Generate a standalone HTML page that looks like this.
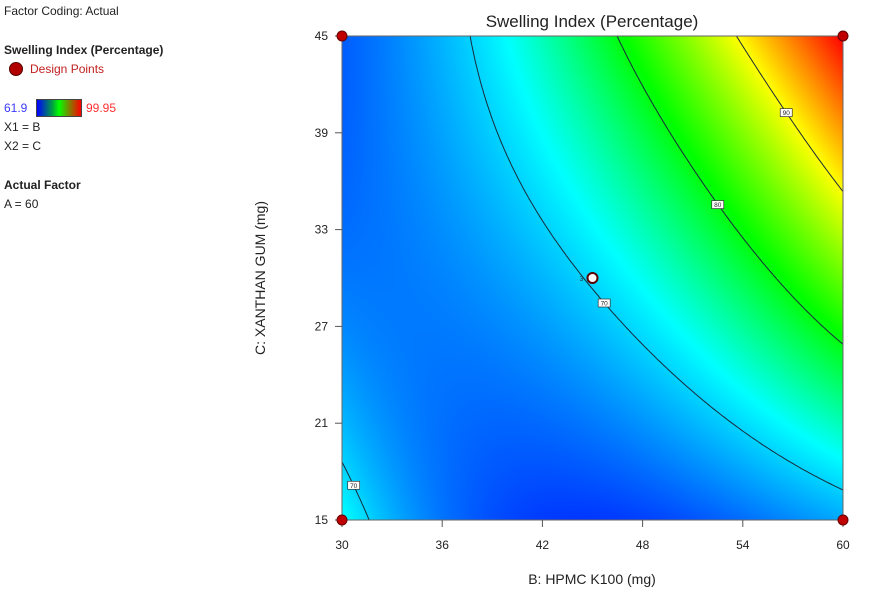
<!DOCTYPE html>
<html><head><meta charset="utf-8">
<style>
body{margin:0;width:886px;height:603px;background:#fff;font-family:"Liberation Sans",sans-serif;position:relative;overflow:hidden}
.t{position:absolute;font-size:12px;color:#222;white-space:nowrap}
.b{font-weight:bold}
</style></head><body>
<div class="t" style="left:4px;top:4px">Factor Coding: Actual</div>
<div class="t b" style="left:4px;top:43px">Swelling Index (Percentage)</div>
<div style="position:absolute;left:9px;top:62px;width:12px;height:12px;border-radius:50%;background:#b00000;border:1px solid #500"></div>
<div class="t" style="left:30px;top:62px;color:#c02020">Design Points</div>
<div class="t" style="left:4px;top:101px;color:#3a3aff">61.9</div>
<div style="position:absolute;left:36px;top:99px;width:44px;height:16px;border:1px solid #444;background:linear-gradient(to right,#0000ff,#00a040 35%,#00ff00 50%,#a06000 80%,#ff0000)"></div>
<div class="t" style="left:86px;top:101px;color:#ff3030">99.95</div>
<div class="t" style="left:4px;top:120px">X1 = B</div>
<div class="t" style="left:4px;top:139px">X2 = C</div>
<div class="t b" style="left:4px;top:178px">Actual Factor</div>
<div class="t" style="left:4px;top:197px">A = 60</div>

<canvas id="cv" width="501" height="484" style="position:absolute;left:342px;top:36px"></canvas>
<svg id="sv" width="886" height="603" style="position:absolute;left:0;top:0"></svg>

<script>
const bVals=[30,37.5,45,52.5,60];
const cVals=[15,22.5,30,37.5,45];
// rows: C=15..45, cols: B=30..60
const zRow15=[72.5,64,62.5,64,68];
const zRow22=[68,64.5,66.5,70.3,76];
const zRow30=[65.5,66.5,71,76.5,85];
const zRow37=[64.5,67.5,75,81.5,92];
const zRow45=[64,70,78,88.5,100];
const grid=[zRow15,zRow22,zRow30,zRow37,zRow45];
const levels=[70,80,90];
const xTicks=[30,36,42,48,54,60];
const yTicks=[15,21,27,33,39,45];
const designB=[30,60,30,60];
const designC=[15,15,45,45];
const centerPt=[45,30];
const zMin=61.9,zMax=99.95;
const labelsB=[45.7,52.5,56.6,30.7];
const labelsLev=[70,80,90,70];

const L=342,R=843,T=36,Bt=520;
const sx=b=>L+(b-30)/30*(R-L);
const sy=c=>Bt-(c-15)/30*(Bt-T);
const DEG=3;
function basis(u,v){const a=[];for(let p=0;p<=DEG;p++)for(let q=0;q<=DEG;q++)a.push(Math.pow(u,p)*Math.pow(v,q));return a;}
const nb=(DEG+1)*(DEG+1);
const A=[],rhs=[];for(let i=0;i<nb;i++){A.push(new Array(nb).fill(0));rhs.push(0);}
cVals.forEach((c,i)=>bVals.forEach((b,j)=>{
  const ph=basis((b-45)/15,(c-30)/15),z=grid[i][j];
  for(let r=0;r<nb;r++){rhs[r]+=ph[r]*z;for(let s=0;s<nb;s++)A[r][s]+=ph[r]*ph[s];}
}));
for(let r=0;r<nb;r++)A[r][r]+=1e-6;
for(let k=0;k<nb;k++){let m=k;for(let r=k+1;r<nb;r++)if(Math.abs(A[r][k])>Math.abs(A[m][k]))m=r;
  [A[k],A[m]]=[A[m],A[k]];[rhs[k],rhs[m]]=[rhs[m],rhs[k]];
  for(let r=k+1;r<nb;r++){const fct=A[r][k]/A[k][k];for(let s=k;s<nb;s++)A[r][s]-=fct*A[k][s];rhs[r]-=fct*rhs[k];}}
const coef=new Array(nb).fill(0);
for(let k=nb-1;k>=0;k--){let s=rhs[k];for(let j=k+1;j<nb;j++)s-=A[k][j]*coef[j];coef[k]=s/A[k][k];}
function f(b,c){const ph=basis((b-45)/15,(c-30)/15);let s=0;for(let k=0;k<nb;k++)s+=coef[k]*ph[k];return s;}

const stops=[[0,[0,50,255]],[0.27,[0,255,255]],[0.49,[0,255,0]],[0.74,[255,255,0]],[1,[255,0,0]]];
function col(z){
  let t=Math.max(0,Math.min(1,(z-zMin)/(zMax-zMin)));
  for(let k=1;k<stops.length;k++) if(t<=stops[k][0]){
    let a=stops[k-1],bb=stops[k],s=(t-a[0])/(bb[0]-a[0]);
    return a[1].map((x,n)=>Math.round(x+(bb[1][n]-x)*s));
  }
  return stops[4][1];
}
const cv=document.getElementById('cv'),ctx=cv.getContext('2d');
const W=cv.width,H=cv.height,img=ctx.createImageData(W,H);
for(let y=0;y<H;y++)for(let x=0;x<W;x++){
  let c=col(f(30+x/(W-1)*30,45-y/(H-1)*30)),p=(y*W+x)*4;
  img.data[p]=c[0];img.data[p+1]=c[1];img.data[p+2]=c[2];img.data[p+3]=255;
}
ctx.putImageData(img,0,0);

const NS='http://www.w3.org/2000/svg',sv=document.getElementById('sv');
function mk(tag,at,name){const e=document.createElementNS(NS,tag);for(const k in at)e.setAttribute(k,at[k]);


sv.appendChild(e);return e;}
const N=150;
const F=[];for(let i=0;i<=N;i++){F.push([]);for(let j=0;j<=N;j++)F[i].push(f(30+j/N*30,15+i/N*30));}
levels.forEach(lv=>{
  let d='';
  const P=(i,j)=>[sx(30+j/N*30),sy(15+i/N*30)];
  const ip=(a,b,va,vb)=>{let t=(lv-va)/(vb-va);return [a[0]+(b[0]-a[0])*t,a[1]+(b[1]-a[1])*t];};
  for(let i=0;i<N;i++)for(let j=0;j<N;j++){
    let v=[F[i][j],F[i][j+1],F[i+1][j+1],F[i+1][j]],p=[P(i,j),P(i,j+1),P(i+1,j+1),P(i+1,j)],pts=[];
    for(let k=0;k<4;k++){let a=v[k],b=v[(k+1)%4];if((a<lv)!==(b<lv))pts.push(ip(p[k],p[(k+1)%4],a,b));}
    for(let k=0;k+1<pts.length;k+=2)d+='M'+pts[k][0].toFixed(1)+' '+pts[k][1].toFixed(1)+'L'+pts[k+1][0].toFixed(1)+' '+pts[k+1][1].toFixed(1);
  }
  mk('path',{d:d,stroke:'#1a2a3a','stroke-width':1,fill:'none'},'contour-'+lv);
});
labelsB.forEach((b,k)=>{
  let lv=labelsLev[k],best=15,bd=1e9;
  let cHi=k===3?25:45;
  for(let c=15;c<=cHi;c+=0.05){let e=Math.abs(f(b,c)-lv);if(e<bd){bd=e;best=c;}}
  let x=sx(b),y=sy(best);
  mk('rect',{x:x-6,y:y-4,width:12,height:8,fill:'#fff',stroke:'#333','stroke-width':0.7},'contour-label-box-'+lv);
  const t=mk('text',{x:x,y:y+2.5,'font-size':6.5,'text-anchor':'middle',fill:'#222','font-family':'Liberation Sans'},'contour-label-'+lv);
  t.textContent=lv;
});
mk('rect',{x:L,y:T,width:R-L,height:Bt-T,fill:'none',stroke:'#666','stroke-width':1},'plot-frame');
xTicks.forEach(v=>{let x=sx(v);
  mk('line',{x1:x,y1:Bt,x2:x,y2:Bt+7,stroke:'#555'},'x-tick');
  const t=mk('text',{x:x,y:Bt+29,'font-size':12,'text-anchor':'middle',fill:'#222','font-family':'Liberation Sans'},'x-tick-label');t.textContent=v;});
yTicks.forEach(v=>{let y=sy(v);
  mk('line',{x1:L-7,y1:y,x2:L,y2:y,stroke:'#555'},'y-tick');
  const t=mk('text',{x:L-14,y:y+4,'font-size':12,'text-anchor':'end',fill:'#222','font-family':'Liberation Sans'},'y-tick-label');t.textContent=v;});
let tt=mk('text',{x:592,y:27,'font-size':17,'text-anchor':'middle',fill:'#222','font-family':'Liberation Sans'},'chart-title');tt.textContent='Swelling Index (Percentage)';
let xt=mk('text',{x:592,y:584,'font-size':14,'text-anchor':'middle',fill:'#222','font-family':'Liberation Sans'},'x-axis-title');xt.textContent='B: HPMC K100 (mg)';
let yt=mk('text',{x:265,y:278,'font-size':14,'text-anchor':'middle',fill:'#222','font-family':'Liberation Sans',transform:'rotate(-90 265 278)'},'y-axis-title');yt.textContent='C: XANTHAN GUM (mg)';
designB.forEach((b,k)=>mk('circle',{cx:sx(b),cy:sy(designC[k]),r:5,fill:'#c00000',stroke:'#600','stroke-width':1},'design-point'));
mk('circle',{cx:sx(centerPt[0]),cy:sy(centerPt[1]),r:5,fill:'#fff',stroke:'#5a0000','stroke-width':2},'center-point');
let ct=mk('text',{x:sx(centerPt[0])-11,y:sy(centerPt[1])+3,'font-size':7,'text-anchor':'middle',fill:'#333','font-family':'Liberation Sans'},'center-point-count');ct.textContent='3';
</script>
</body></html>
